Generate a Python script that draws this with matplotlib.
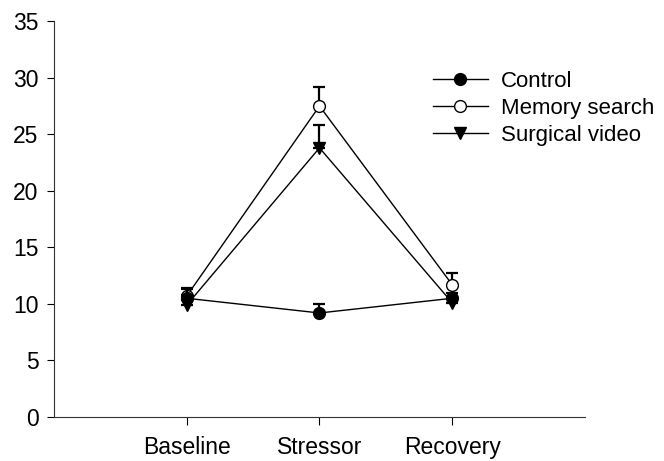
import numpy as np
import matplotlib
matplotlib.use("Agg")
import matplotlib.pyplot as plt
from matplotlib.lines import Line2D

plt.rcParams['font.family'] = ['Liberation Sans', 'DejaVu Sans']

# 数据
phases = ['Baseline', 'Stressor', 'Recovery']
control = [10.5, 9.2, 10.5]
control_err = [0.8, 0.8, 0.5]
memory = [10.7, 27.5, 11.7]
memory_err = [0.7, 1.7, 1.0]
surgical = [9.9, 23.8, 10.1]
surgical_err = [0.9, 2.0, 0.5]

x = np.arange(1, len(phases) + 1)

fig = plt.figure(figsize=(6.64, 4.61), dpi=100)
ax = fig.add_axes([0.0813, 0.0954, 0.7997, 0.8586])

common = dict(color='black', linewidth=1.0, markersize=8.5, elinewidth=1.6,
              capsize=4, capthick=1.6, markeredgecolor='black')

ax.errorbar(x, memory, yerr=[np.zeros(3), memory_err], marker='o',
            markerfacecolor='white', zorder=3, **common)
ax.errorbar(x, surgical, yerr=[np.zeros(3), surgical_err], marker='v',
            markerfacecolor='black', zorder=4, **common)
ax.errorbar(x, control, yerr=[np.zeros(3), control_err], marker='o',
            markerfacecolor='black', zorder=5, **common)

ax.set_xlim(0, 4)
ax.set_ylim(0, 35)
ax.set_yticks(np.arange(0, 36, 5))
ax.set_xticks(x)
ax.set_xticklabels(phases)

ax.spines['top'].set_visible(False)
ax.spines['right'].set_visible(False)
ax.spines['left'].set_color('#333333')
ax.spines['bottom'].set_color('#333333')
ax.tick_params(axis='y', direction='out', length=5, width=0.8, labelsize=16.5, pad=6)
ax.tick_params(axis='x', direction='out', length=6, width=0.8, labelsize=16.5, pad=8)

# 图例
handles = [
    Line2D([], [], color='black', lw=1.0, marker='o', markersize=8.5,
           markerfacecolor='black', markeredgecolor='black'),
    Line2D([], [], color='black', lw=1.0, marker='o', markersize=8.5,
           markerfacecolor='white', markeredgecolor='black'),
    Line2D([], [], color='black', lw=1.0, marker='v', markersize=8.5,
           markerfacecolor='black', markeredgecolor='black'),
]
labels = ['Control', 'Memory search', 'Surgical video']
ax.legend(handles, labels, frameon=False, loc='upper left',
          bbox_to_anchor=(0.714, 0.875), fontsize=16, handlelength=2.45,
          handletextpad=0.6, labelspacing=0.27, borderpad=0, borderaxespad=0)

plt.savefig('out.png', dpi=100)
